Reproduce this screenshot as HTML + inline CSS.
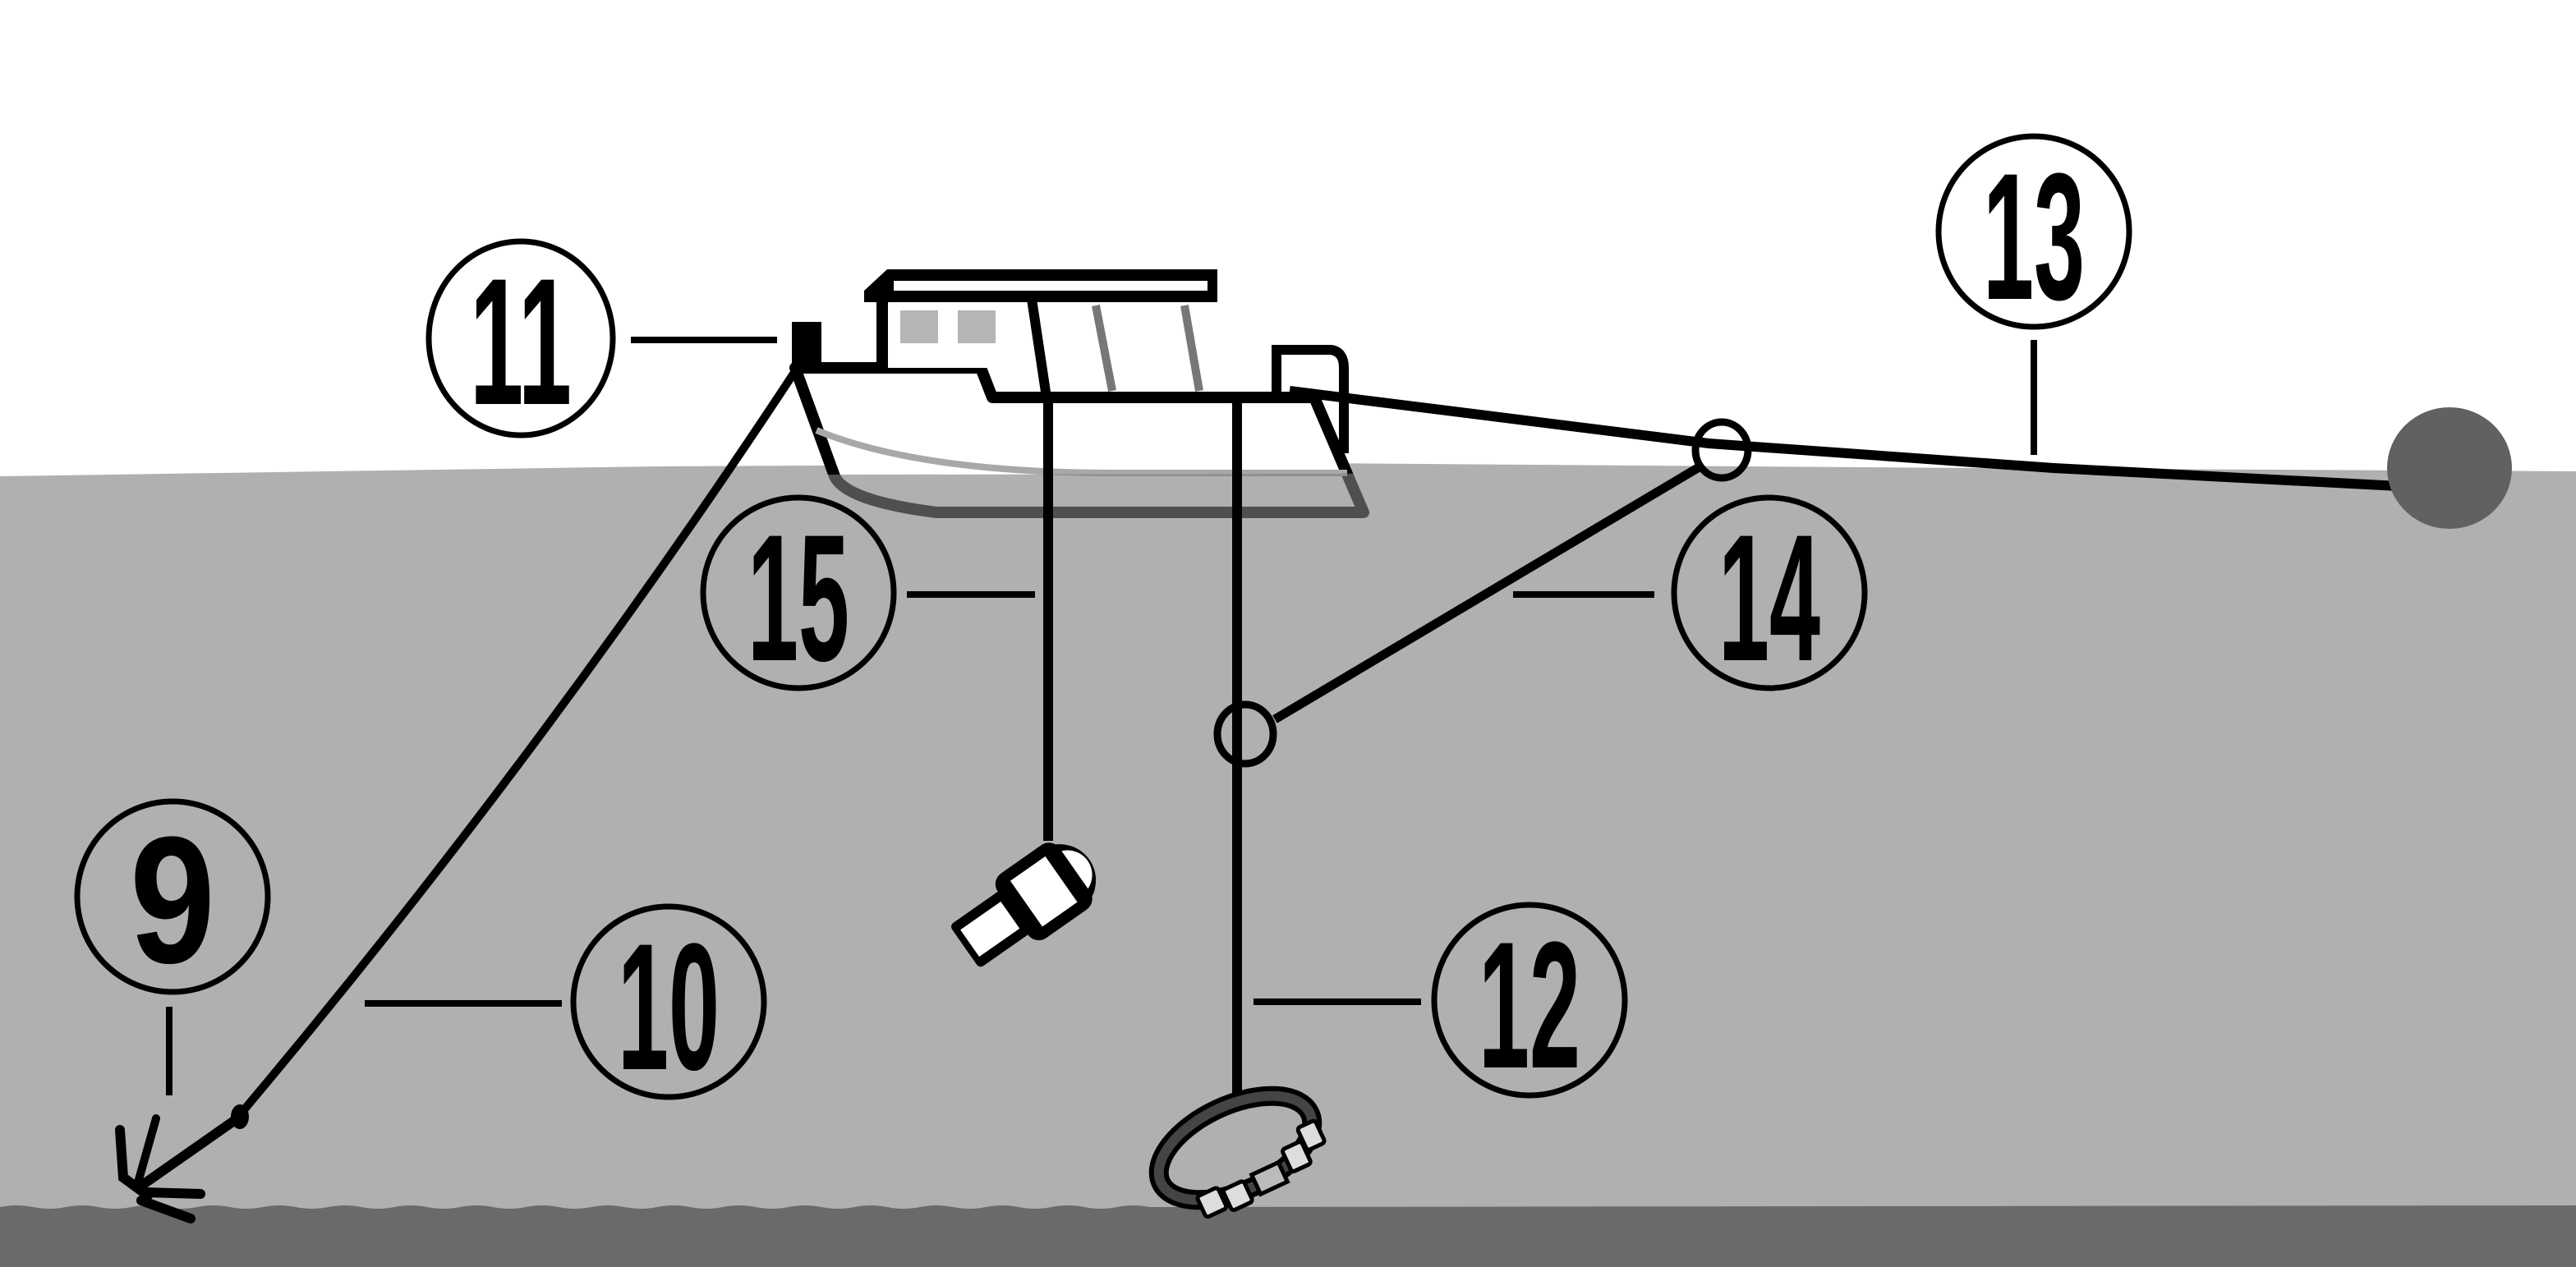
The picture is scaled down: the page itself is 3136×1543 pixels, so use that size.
<!DOCTYPE html>
<html><head><meta charset="utf-8"><style>
html,body{margin:0;padding:0;background:#fff;}
svg{display:block;}
.n{font-family:"Liberation Sans Narrow","Liberation Sans",sans-serif;font-weight:bold;font-size:110px;}
</style></head><body>
<svg width="3136" height="1543" viewBox="0 0 1568 771.5" xmlns="http://www.w3.org/2000/svg">
<defs>
<clipPath id="above"><polygon points="0,0 1568,0 1568,287 0,290"/></clipPath>
<clipPath id="below"><polygon points="0,290 1568,287 1568,772 0,772"/></clipPath>
</defs>
<rect width="1568" height="772" fill="#fff"/>
<polygon points="0,290 400,284 800,282 1200,285 1568,287 1568,772 0,772" fill="#b0b0b0"/>
<g clip-path="url(#above)">
<path d="M484,224 L597,224 L604,242 L800,242 L830,312 L570,312 Q515,305 508,290 Z" fill="#fff" stroke="#000" stroke-width="7" stroke-linejoin="round"/>
<path d="M497,262 Q560,288 680,288 L820,288" fill="none" stroke="#a8a8a8" stroke-width="4"/>
</g>
<g clip-path="url(#below)">
<path d="M484,224 L597,224 L604,242 L800,242 L830,312 L570,312 Q515,305 508,290 Z" fill="none" stroke="#4f4f4f" stroke-width="7" stroke-linejoin="round"/>
<path d="M497,262 Q560,288 680,288 L820,288" fill="none" stroke="#8e8e8e" stroke-width="4"/>
</g>
<rect x="537" y="180" width="92" height="44" fill="#fff"/>
<line x1="537" y1="182" x2="537" y2="224" stroke="#000" stroke-width="7"/>
<rect x="548" y="189" width="23" height="20" fill="#b5b5b5"/>
<rect x="583" y="189" width="23" height="20" fill="#b5b5b5"/>
<line x1="628" y1="182" x2="637" y2="242" stroke="#000" stroke-width="6"/>
<line x1="667" y1="186" x2="677" y2="238" stroke="#777" stroke-width="5"/>
<line x1="721" y1="186" x2="730" y2="238" stroke="#777" stroke-width="5"/>
<path d="M526,177 L540,164 L741,164 L741,184 L526,184 Z" fill="#000"/>
<rect x="544" y="171" width="191" height="6" fill="#fff"/>
<rect x="482" y="196" width="18" height="28" fill="#000"/>
<path d="M777,240 L777,213 L810,213 Q818,214 818,224 L818,276" fill="none" stroke="#000" stroke-width="6"/>
<line x1="638" y1="240" x2="638" y2="512" stroke="#000" stroke-width="6"/>
<line x1="753" y1="240" x2="753" y2="676" stroke="#000" stroke-width="6"/>
<path d="M785,238 L1040,270 L1250,285 L1460,296" fill="none" stroke="#000" stroke-width="6"/>
<ellipse cx="1491" cy="285" rx="38" ry="37" fill="#616161"/>
<ellipse cx="1048" cy="274" rx="16" ry="17" fill="none" stroke="#000" stroke-width="4.5"/>
<line x1="1035" y1="284" x2="776" y2="438" stroke="#000" stroke-width="5.5"/>
<ellipse cx="758" cy="447" rx="17" ry="18" fill="none" stroke="#000" stroke-width="4.5"/>
<path d="M484,226 Q330,460 145,680" fill="none" stroke="#000" stroke-width="5"/>
<g transform="translate(628,548) rotate(-35)">
<rect x="-50" y="-16" width="40" height="32" rx="3" fill="#000"/>
<rect x="-46" y="-10" width="30" height="20" fill="#fff"/>
<rect x="-14" y="-24" width="46" height="48" rx="8" fill="#000"/>
<rect x="-4" y="-17" width="26" height="34" fill="#fff"/>
<path d="M30,-20 A22,22 0 0 1 30,20 Z" fill="#000"/>
<path d="M32,-14 A15,15 0 0 1 32,14 Z" fill="#fff"/>
</g>
<path d="M0,735 Q10,733 20,735 T40,735 T60,735 T80,735 T100,735 T120,735 T140,735 T160,735 T180,735 T200,735 T220,735 T240,735 T260,735 T280,735 T300,735 T320,735 T340,735 T360,735 T380,735 T400,735 T420,735 T440,735 T460,735 T480,735 T500,735 T520,735 T540,735 T560,735 T580,735 T600,735 T620,735 T640,735 T660,735 T680,735 T700,735 L1568,734 L1568,772 L0,772 Z" fill="#6a6a6a"/>
<g stroke="#000" stroke-linecap="round" fill="none">
<line x1="146" y1="680" x2="86" y2="722" stroke-width="6"/>
<ellipse cx="146" cy="680" rx="5" ry="7" fill="#000" stroke-width="1"/>
<polyline points="73,688 75,717 90,728" stroke-width="6"/>
<line x1="95" y1="681" x2="84" y2="720" stroke-width="5"/>
<line x1="88" y1="726" x2="122" y2="727" stroke-width="6"/>
<line x1="86" y1="731" x2="116" y2="742" stroke-width="6"/>
</g>
<g transform="translate(752,699) rotate(-25)">
<ellipse cx="0" cy="0" rx="50" ry="26" fill="none" stroke="#000" stroke-width="12"/>
<ellipse cx="0" cy="0" rx="50" ry="26" fill="none" stroke="#444" stroke-width="6"/>
<g fill="#ddd" stroke="#000" stroke-width="2.5">
<rect x="-34" y="17" width="14" height="14" rx="2"/>
<rect x="-18" y="20" width="14" height="14" rx="2"/>
<rect x="2" y="19" width="18" height="13" fill="#bbb"/>
<rect x="25" y="13" width="13" height="15" rx="2"/>
<rect x="39" y="5" width="12" height="15" rx="2"/>
</g>
</g>
<g stroke="#000" stroke-width="4">
<line x1="384" y1="207" x2="473" y2="207"/>
<line x1="1238" y1="207" x2="1238" y2="277"/>
<line x1="552" y1="362" x2="630" y2="362"/>
<line x1="921" y1="362" x2="1007" y2="362"/>
<line x1="103" y1="613" x2="103" y2="667"/>
<line x1="222" y1="611" x2="342" y2="611"/>
<line x1="763" y1="610" x2="865" y2="610"/>
</g>
<g fill="none" stroke="#000" stroke-width="3.5">
<ellipse cx="317" cy="206" rx="56" ry="59"/>
<ellipse cx="1238" cy="141" rx="58" ry="58"/>
<ellipse cx="486" cy="361" rx="58" ry="58"/>
<ellipse cx="1077" cy="361" rx="58" ry="58"/>
<ellipse cx="105" cy="546" rx="58" ry="58"/>
<ellipse cx="407" cy="610" rx="58" ry="58"/>
<ellipse cx="931" cy="609" rx="58" ry="58"/>
</g>
<g class="n" fill="#000" text-anchor="middle">
<text x="317" y="246" textLength="62" lengthAdjust="spacingAndGlyphs">11</text>
<text x="1238" y="182" textLength="62" lengthAdjust="spacingAndGlyphs">13</text>
<text x="486" y="402" textLength="62" lengthAdjust="spacingAndGlyphs">15</text>
<text x="1077" y="402" textLength="62" lengthAdjust="spacingAndGlyphs">14</text>
<text x="407" y="651" textLength="62" lengthAdjust="spacingAndGlyphs">10</text>
<text x="931" y="650" textLength="62" lengthAdjust="spacingAndGlyphs">12</text>
<text x="105" y="586" style="font-family:'Liberation Sans',sans-serif" textLength="52" lengthAdjust="spacingAndGlyphs">9</text>
</g>
</svg>
</body></html>
